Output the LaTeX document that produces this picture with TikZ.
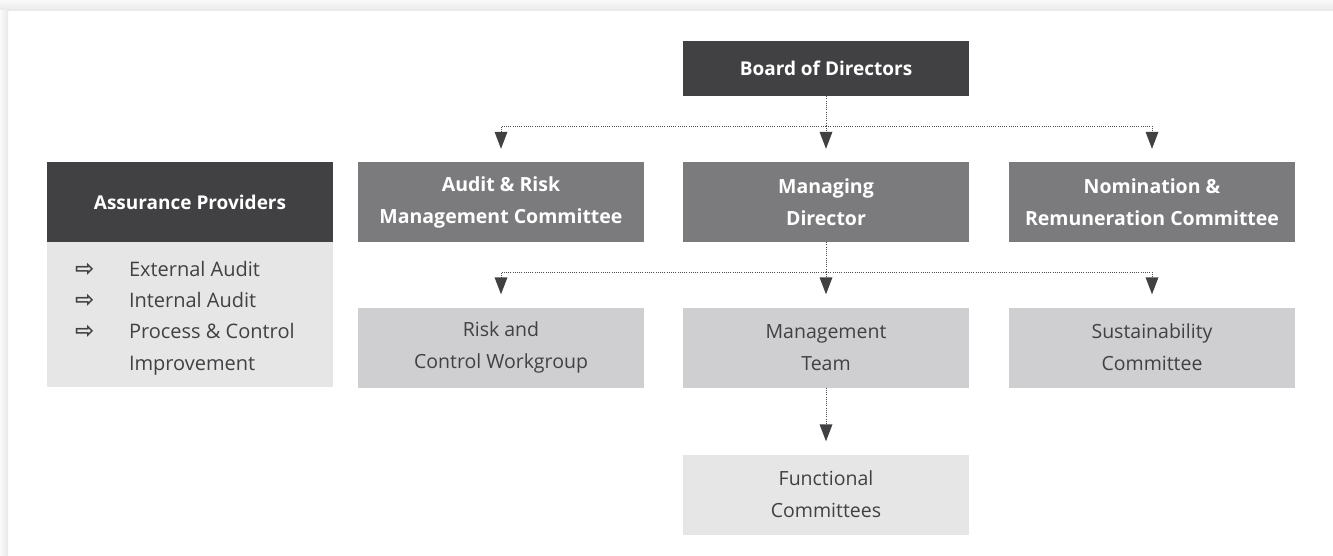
\documentclass[tikz,border=0pt]{standalone}
\usepackage{fontspec}
\setmainfont{Open Sans}
\newfontfamily\symfont{DejaVu Sans}
\usetikzlibrary{arrows.meta}

\definecolor{darkbox}{HTML}{414042}
\definecolor{midbox}{HTML}{7B7B7E}
\definecolor{lightbox}{HTML}{CFCFD1}
\definecolor{paleBox}{HTML}{E6E6E7}
\definecolor{inktext}{HTML}{414042}
\definecolor{linkgray}{HTML}{4F4F52}

\newcommand{\itemarrow}{{\symfont\bfseries\fontsize{23}{20}\selectfont ⇨}}

\tikzset{
  orgbox/.style={rectangle, inner sep=0pt, minimum width=286pt, align=center},
  headbox/.style={orgbox, fill=darkbox, text=white, minimum height=80pt,
    font=\fontsize{19}{32}\selectfont\bfseries},
  topbox/.style={headbox, minimum height=55pt},
  committee/.style={orgbox, fill=midbox, text=white, minimum height=80pt,
    font=\fontsize{19.5}{32}\selectfont\bfseries},
  subunit/.style={orgbox, fill=lightbox, text=inktext, minimum height=80pt,
    font=\fontsize{19.5}{32}\selectfont},
  paleunit/.style={subunit, fill=paleBox},
  linkplain/.style={draw=linkgray, line width=0.9pt, dash pattern=on 1pt off 1.2pt},
  link/.style={linkplain, shorten >=13pt,
    -{Triangle[width=13pt,length=17pt,line width=0pt,color=darkbox,fill=darkbox]}}
}

\begin{document}
\begin{tikzpicture}[x=1pt,y=-1pt]
  \useasboundingbox (0,0) rectangle (1333,556);

  % card with soft shadow along the top and left edges
  \fill[white] (0,0) rectangle (1333,556);
  \shade[top color=black!2, bottom color=black!9] (0,0) rectangle (1333,11);
  \shade[left color=black!2, right color=black!9] (0,11) rectangle (8,556);

  % board
  \node[topbox] (board) at (826,68.5) {Board of Directors};

  % second tier
  \node[committee] (audit) at (501,202) {Audit \& Risk\\Management Committee};
  \node[committee] (md)    at (826,202) {Managing\\Director};
  \node[committee] (nrc)   at (1152,202) {Nomination \&\\Remuneration Committee};

  % assurance providers panel
  \node[headbox] (assure) at (190,202) {Assurance Providers};
  \node[orgbox, fill=paleBox, minimum height=145pt, anchor=north] (assurelist)
    at (assure.south) {};
  \node[anchor=west, text=inktext, inner sep=0pt,
        font=\fontsize{20}{31.3}\selectfont] (assureitems)
    at ([xshift=28pt,yshift=-2pt]assurelist.west) {%
    \begin{tabular}{@{}p{54pt}@{}l@{}}
      \itemarrow & External Audit\\
      \itemarrow & Internal Audit\\
      \itemarrow & Process \& Control\\
                 & Improvement
    \end{tabular}};

  % third tier
  \node[subunit] (rcw)  at (501,347.5) {Risk and\\Control Workgroup};
  \node[subunit] (mt)   at (826,347.5) {Management\\Team};
  \node[subunit] (sust) at (1152,347.5) {Sustainability\\Committee};

  % fourth tier
  \node[paleunit] (func) at (826,494.5) {Functional\\Committees};

  % reporting lines from the board
  \coordinate (busA) at (826,126);
  \draw[linkplain] (board.south) -- (busA);
  \draw[link] (busA) -| (audit.north);
  \draw[link] (busA) -- (md.north);
  \draw[link] (busA) -| (nrc.north);

  % reporting lines from the managing director
  \coordinate (busB) at (826,272);
  \draw[linkplain] (md.south) -- (busB);
  \draw[link] (busB) -| (rcw.north);
  \draw[link] (busB) -- (mt.north);
  \draw[link] (busB) -| (sust.north);

  % management team to functional committees
  \draw[link] (mt.south) -- (func.north);
\end{tikzpicture}
\end{document}
